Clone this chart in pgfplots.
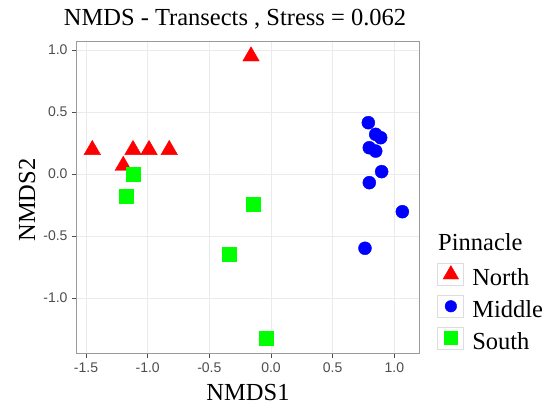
\documentclass[border=0pt]{standalone}
\usepackage{pgfplots}
\pgfplotsset{compat=1.18}
\usepackage{fontspec}
\setmainfont{Liberation Serif}
\newfontfamily\arialfont{Liberation Sans}
\definecolor{tickgray}{HTML}{4D4D4D}
\definecolor{gridgray}{HTML}{EBEBEB}
\definecolor{bordergray}{HTML}{9A9A9A}
\definecolor{keygray}{HTML}{DDDDDD}
\definecolor{ptred}{HTML}{FF0000}
\definecolor{ptblue}{HTML}{0000FF}
\definecolor{ptgreen}{HTML}{00FF00}
\begin{document}
\begin{tikzpicture}
\useasboundingbox (-77pt,-52pt) rectangle (474pt,353pt);
\begin{axis}[
  at={(0pt,0pt)}, anchor=south west,
  scale only axis, width=342pt, height=311pt,
  xmin=-1.573, xmax=1.20, ymin=-1.444, ymax=1.065,
  xtick={-1.5,-1,-0.5,0,0.5,1},
  ytick={-1,-0.5,0,0.5,1},
  xtick pos=bottom, ytick pos=left,
  tick align=outside, major tick length=5pt,
  tick style={draw=black!70, line width=0.8pt},
  axis line style={draw=bordergray, line width=1pt},
  grid=major,
  major grid style={draw=gridgray, line width=0.8pt},
  /pgf/number format/.cd, fixed, fixed zerofill, precision=1, assume math mode=true,
  /pgfplots/.cd,
  ticklabel style={font=\arialfont\fontsize{14}{16}\selectfont, text=tickgray},
  xticklabel style={anchor=north, yshift=-1pt},
  yticklabel style={anchor=east, xshift=-1pt},
  title={NMDS - Transects , Stress = 0.062},
  title style={at={(axis description cs:0.462,1.035)}, anchor=base, font=\fontsize{24.5}{29}\selectfont, inner sep=0pt},
  xlabel={NMDS1},
  xlabel style={at={(axis description cs:0.5,-0.154)}, anchor=base, font=\fontsize{24.5}{29}\selectfont, inner sep=0pt},
  ylabel={NMDS2},
  ylabel style={at={(axis description cs:-0.1228,0.492)}, anchor=base, font=\fontsize{24.5}{29}\selectfont, inner sep=0pt},
  legend style={at={(axis description cs:1.054,0.289)}, anchor=north west,
    draw=none, fill=none, inner sep=0pt, outer sep=0pt, row sep=7.5pt,
    nodes={inner sep=0pt, font=\fontsize{24.5}{29}\selectfont, yshift=3.7pt},
    /tikz/every odd column/.append style={column sep=8pt},
    /tikz/every even column/.append style={column sep=0pt}},
  legend cell align=left,
  legend image code/.code={
    \draw[draw=keygray, fill=white, line width=0.8pt, solid] (0pt,-3.7pt) rectangle (26pt,18.3pt);
    \draw plot coordinates {(13pt,7.3pt)};
  },
  clip=false,
]
\addplot[only marks, mark=triangle*, mark size=9.5pt, color=ptred, legend image post style={mark size=9pt}] coordinates {
(-1.449,0.195) (-1.198,0.067) (-1.119,0.195) (-0.989,0.195) (-0.825,0.195) (-0.162,0.95)
};
\addlegendentry{North}
\addplot[only marks, mark=*, mark size=6.5pt, color=ptblue, legend image post style={mark size=5.8pt}] coordinates {
(0.789,0.414) (0.849,0.320) (0.889,0.293) (0.797,0.212) (0.849,0.185)
(0.897,0.019) (0.797,-0.070) (1.065,-0.304) (0.762,-0.599)
};
\addlegendentry{Middle}
\addplot[only marks, mark=square*, mark size=7pt, color=ptgreen, legend image post style={mark size=6.5pt}] coordinates {
(-1.117,0.0) (-1.176,-0.183) (-0.143,-0.242) (-0.341,-0.645) (-0.035,-1.325)
};
\addlegendentry{South}
\node[anchor=base west, inner sep=0pt, font=\fontsize{24.5}{29}\selectfont] at (axis description cs:1.0556,0.331) {Pinnacle};
\end{axis}
\end{tikzpicture}
\end{document}
